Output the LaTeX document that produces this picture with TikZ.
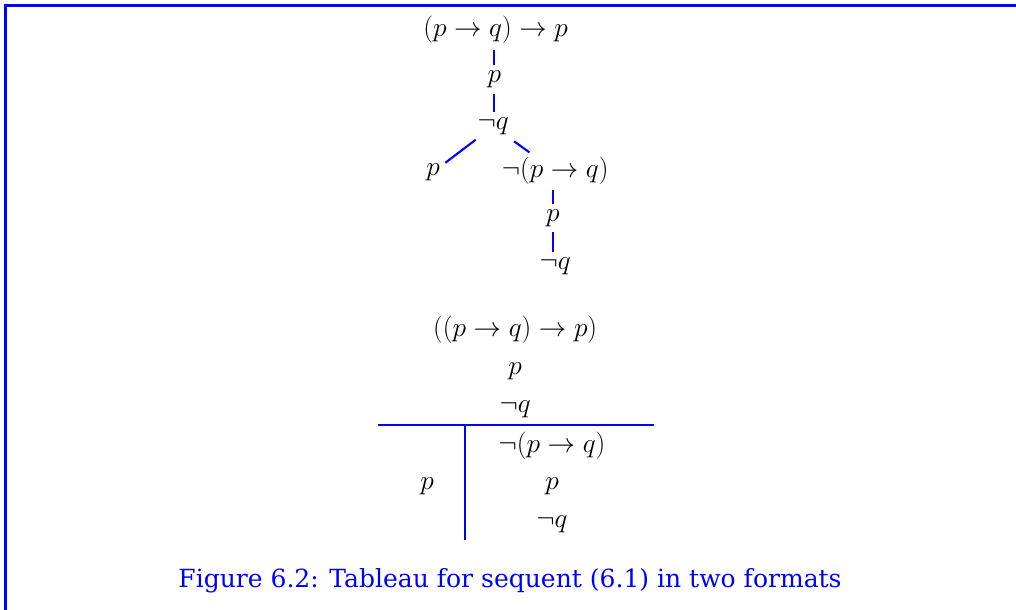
\RequirePackage{fix-cm}
\documentclass[tikz,border=0pt]{standalone}
\usepackage{fontspec}
\usepackage{tikz}
\usetikzlibrary{calc, positioning}
\newfontfamily\capfont{DejaVu Serif}

\begin{document}
\begin{tikzpicture}[
    fml/.style={inner sep=2pt, font=\fontsize{19.5}{23}\selectfont},
    edge/.style={draw=blue, line width=1.5pt, shorten <=2pt, shorten >=2pt},
    rule/.style={draw=blue, line width=1.5pt}
  ]
    \useasboundingbox (0, 0) rectangle (25.4, -15.25);
    % frame
    \draw[blue, line width=2pt] (0.14, -15.3) -- (0.14, -0.14) -- (25.45, -0.14);

    % tree format
    \node[fml] (top) at (12.39, -0.75) {$(p \to q) \to p$};
    \node[fml] (p1) at (12.36, -1.98) {$p$};
    \node[fml] (nq1) at (12.33, -3.16) {$\neg q$};
    \node[fml] (pl) at (10.83, -4.3) {$p$};
    \node[fml] (npq) at (13.88, -4.27) {$\neg(p \to q)$};
    \node[fml] (p2) at (13.82, -5.45) {$p$};
    \node[fml] (nq2) at (13.88, -6.65) {$\neg q$};

    \draw[edge] (top.south -| p1) -- (p1);
    \draw[edge] (p1) -- (nq1.north -| p1);
    \draw[edge] (nq1) -- (pl);
    \draw[edge, shorten <=4pt] (nq1) -- (npq);
    \draw[edge] (npq.south -| p2) -- (p2);
    \draw[edge] (p2) -- (nq2.north -| p2);

    % tableau format
    \node[fml] (form) at (12.88, -8.25) {$((p \to q) \to p)$};
    \node[fml] (tp1) at (12.88, -9.28) {$p$};
    \node[fml] (tnq1) at (12.88, -10.23) {$\neg q$};
    \node[fml] (tnpq) at (13.8, -11.13) {$\neg(p \to q)$};
    \node[fml] (tpl) at (10.68, -12.15) {$p$};
    \node[fml] (tp2) at (13.8, -12.15) {$p$};
    \node[fml] (tnq2) at (13.8, -13.1) {$\neg q$};

    \coordinate (hl) at (9.45, -10.62);
    \coordinate (hr) at (16.35, -10.62);
    \coordinate (vt) at (11.62, -10.62);
    \coordinate (vb) at (11.62, -13.5);
    \draw[rule] (hl) -- (hr);
    \draw[rule] (vt) -- (vb);

    \node[blue, font=\capfont\fontsize{17.8}{21}\selectfont] (cap) at (12.75, -14.52)
      {Figure 6.2: Tableau for sequent (6.1) in two formats};
  \end{tikzpicture}
\end{document}
